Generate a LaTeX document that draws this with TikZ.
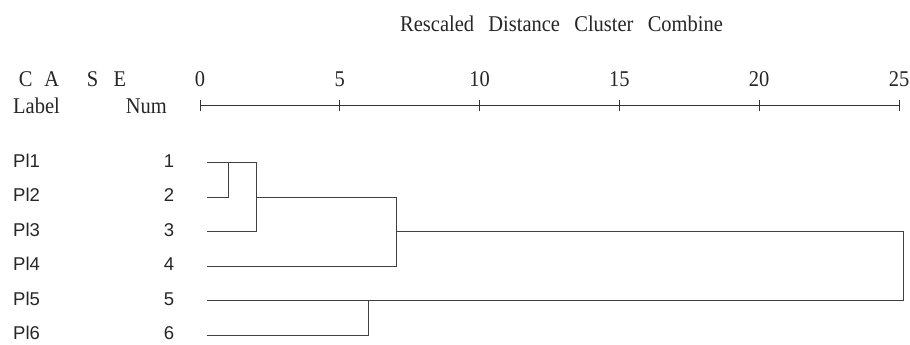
\documentclass[tikz,border=0pt]{standalone}
\usepackage{fontspec}
\setmainfont{Liberation Serif}
\newfontfamily\hdrfont[FakeStretch=0.91]{Liberation Serif}
\newfontfamily\lblfont{Liberation Sans}
\begin{document}
\begin{tikzpicture}[x=1pt,y=-1pt,
  hdr/.style={font=\hdrfont\fontsize{22.5}{22.5}\selectfont, inner sep=0pt, text=black!85},
  lbl/.style={font=\lblfont\fontsize{18.5}{18.5}\selectfont, inner sep=0pt, text=black!85},
  axisline/.style={draw=black!80, line width=0.8pt},
  dend/.style={draw=black!75, line width=0.8pt}]
\useasboundingbox (0,0) rectangle (910,345);

% header texts
\node[hdr, anchor=base west] (title) at (400,32) {Rescaled\hspace{14.3pt}Distance\hspace{14.3pt}Cluster\hspace{14.3pt}Combine};
\node[hdr, anchor=base west] (case) at (18.6,86) {C\hspace{11.8pt}A\hspace{27.8pt}S\hspace{15.5pt}E};
\node[hdr, anchor=base west] (label) at (13,113) {Label};
\node[hdr, anchor=base east] (num) at (167,113) {Num};

% axis
\coordinate (a0) at (200,105.5);
\coordinate (a25) at (899,105.5);
\draw[axisline] (a0) -- (a25);
\foreach \v [count=\k from 0] in {0,5,10,15,20,25} {
  \coordinate (t\k) at ({200+139.8*\k},105.5);
  \draw[axisline] ([yshift=5.5pt]t\k) -- ([yshift=-5.5pt]t\k);
  \node[hdr, anchor=base] (tl\k) at ({200+139.8*\k},86) {\v};
}

% rows
\foreach \i/\y in {1/162.5,2/197,3/231.5,4/266,5/300.5,6/335} {
  \node[lbl, anchor=base west] (pl\i) at (13,\y+4.5) {Pl\i};
  \node[lbl, anchor=base] (n\i) at (169,\y+4.5) {\i};
  \coordinate (l\i) at (206.5,\y);
}

% merge points
\coordinate (m12) at (228,162.5);
\coordinate (m123t) at (256,162.5);
\coordinate (m123m) at (256,197);
\coordinate (m1234t) at (396,197);
\coordinate (m1234m) at (396,231.5);
\coordinate (roott) at (903,231.5);
\coordinate (m56) at (368,300.5);

% dendrogram
\draw[dend] (l2) -| (m12);
\draw[dend] (l1) -- (m123t) |- (l3);
\draw[dend] (m123m) -- (m1234t) |- (l4);
\draw[dend] (m1234m) -- (roott) |- (l5);
\draw[dend] (l6) -| (m56);
\end{tikzpicture}
\end{document}
